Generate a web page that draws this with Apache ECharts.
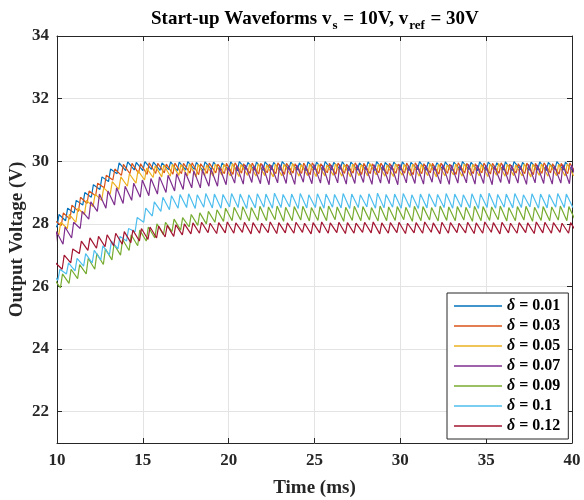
<!DOCTYPE html>
<html>
<head>
<meta charset="utf-8">
<script src="https://cdn.jsdelivr.net/npm/echarts@6/dist/echarts.min.js"></script>
<style>html,body{margin:0;padding:0;background:#fff}#main{width:584px;height:500px}</style>
</head>
<body>
<div id="main"></div>
<script>
// delta values (legend) and MATLAB default colours
var deltas = ['0.01', '0.03', '0.05', '0.07', '0.09', '0.1', '0.12'];
var colors = ['#0072BD', '#D95319', '#EDB120', '#7E2F8E', '#77AC30', '#4DBEEE', '#A2142F'];
var yTicks = [22, 24, 26, 28, 30, 32, 34];

// ripple cycles: one peak / trough pair every 0.5 ms from 10 ms to 40 ms
var cycleStart = 10, cycleLen = 0.5, riseTime = 0.12;
var phases = [0, 0.25, 0.1, 0.35, 0.2, 0.05, 0.3];

var hi001 = [28.05, 28.3, 28.5, 28.75, 29.0, 29.25, 29.5, 29.75, 29.95, 29.98,
  29.96, 29.99, 29.97, 29.95, 29.98, 29.97, 29.99, 29.96, 29.98, 29.97,
  29.95, 29.98, 29.99, 29.96, 29.97, 29.98, 29.96, 29.99, 29.97, 29.95,
  29.98, 29.97, 29.99, 29.96, 29.98, 29.97, 29.95, 29.98, 29.99, 29.96,
  29.97, 29.98, 29.96, 29.99, 29.97, 29.95, 29.98, 29.97, 29.99, 29.96,
  29.98, 29.97, 29.95, 29.98, 29.99, 29.96, 29.97, 29.98, 29.96, 29.99,
  29.97];
var lo001 = [27.65, 27.9, 28.1, 28.35, 28.6, 28.85, 29.1, 29.35, 29.6, 29.7,
  29.72, 29.70, 29.74, 29.71, 29.73, 29.69, 29.72, 29.74, 29.70, 29.73,
  29.71, 29.72, 29.69, 29.74, 29.72, 29.70, 29.73, 29.71, 29.74, 29.72,
  29.69, 29.73, 29.71, 29.72, 29.74, 29.70, 29.72, 29.73, 29.69, 29.71,
  29.74, 29.72, 29.70, 29.73, 29.71, 29.72, 29.74, 29.69, 29.72, 29.73,
  29.70, 29.71, 29.74, 29.72, 29.69, 29.73, 29.71, 29.72, 29.70, 29.74,
  29.72];

var hi003 = [28.1, 28.35, 28.6, 28.85, 29.05, 29.3, 29.55, 29.75, 29.9, 29.93,
  29.92, 29.95, 29.93, 29.91, 29.94, 29.93, 29.95, 29.92, 29.94, 29.91,
  29.93, 29.95, 29.92, 29.94, 29.93, 29.91, 29.95, 29.93, 29.92, 29.94,
  29.95, 29.92, 29.93, 29.94, 29.91, 29.95, 29.93, 29.92, 29.94, 29.93,
  29.91, 29.94, 29.95, 29.92, 29.93, 29.94, 29.91, 29.95, 29.93, 29.92,
  29.94, 29.93, 29.95, 29.91, 29.92, 29.94, 29.93, 29.95, 29.92, 29.93,
  29.94];
var lo003 = [27.7, 27.95, 28.15, 28.4, 28.65, 28.9, 29.15, 29.4, 29.55, 29.6,
  29.62, 29.58, 29.61, 29.63, 29.59, 29.60, 29.62, 29.57, 29.61, 29.63,
  29.60, 29.58, 29.62, 29.61, 29.59, 29.63, 29.60, 29.58, 29.62, 29.61,
  29.57, 29.60, 29.63, 29.59, 29.61, 29.62, 29.58, 29.60, 29.63, 29.59,
  29.61, 29.62, 29.57, 29.60, 29.63, 29.59, 29.61, 29.58, 29.62, 29.60,
  29.63, 29.59, 29.61, 29.58, 29.62, 29.60, 29.57, 29.61, 29.63, 29.59,
  29.60];

var hi005 = [27.85, 28.05, 28.3, 28.5, 28.75, 28.95, 29.15, 29.35, 29.5, 29.6,
  29.7, 29.78, 29.85, 29.88, 29.9, 29.89, 29.92, 29.9, 29.88, 29.91,
  29.9, 29.93, 29.89, 29.9, 29.92, 29.88, 29.91, 29.9, 29.93, 29.89,
  29.91, 29.9, 29.88, 29.92, 29.9, 29.91, 29.89, 29.93, 29.9, 29.88,
  29.92, 29.9, 29.91, 29.89, 29.93, 29.9, 29.88, 29.91, 29.92, 29.9,
  29.89, 29.91, 29.93, 29.9, 29.88, 29.92, 29.9, 29.91, 29.89, 29.9,
  29.92];
var lo005 = [27.45, 27.65, 27.85, 28.05, 28.3, 28.55, 28.75, 28.95, 29.1, 29.2,
  29.3, 29.4, 29.48, 29.5, 29.52, 29.55, 29.53, 29.5, 29.54, 29.52,
  29.56, 29.53, 29.51, 29.55, 29.52, 29.54, 29.5, 29.53, 29.56, 29.52,
  29.54, 29.51, 29.53, 29.55, 29.52, 29.5, 29.54, 29.53, 29.56, 29.52,
  29.51, 29.55, 29.53, 29.52, 29.54, 29.5, 29.53, 29.56, 29.52, 29.54,
  29.53, 29.51, 29.55, 29.52, 29.54, 29.53, 29.5, 29.55, 29.52, 29.54,
  29.53];

var hi007 = [27.75, 27.9, 28.05, 28.4, 28.7, 28.95, 29.05, 29.15, 29.2, 29.3,
  29.4, 29.45, 29.5, 29.55, 29.6, 29.65, 29.7, 29.72, 29.75, 29.8,
  29.82, 29.86, 29.88, 29.85, 29.89, 29.87, 29.9, 29.86, 29.88, 29.85,
  29.89, 29.87, 29.88, 29.9, 29.86, 29.88, 29.85, 29.89, 29.87, 29.88,
  29.9, 29.86, 29.88, 29.87, 29.85, 29.89, 29.88, 29.86, 29.9, 29.87,
  29.88, 29.85, 29.89, 29.87, 29.86, 29.9, 29.88, 29.87, 29.85, 29.89,
  29.88];
var lo007 = [27.1, 27.35, 27.55, 27.85, 28.15, 28.4, 28.5, 28.6, 28.65, 28.75,
  28.85, 28.9, 28.95, 29.0, 29.05, 29.1, 29.15, 29.15, 29.2, 29.2,
  29.25, 29.3, 29.27, 29.32, 29.28, 29.25, 29.31, 29.29, 29.26, 29.33,
  29.28, 29.3, 29.25, 29.31, 29.27, 29.29, 29.32, 29.26, 29.3, 29.28,
  29.25, 29.31, 29.29, 29.27, 29.33, 29.28, 29.26, 29.3, 29.31, 29.27,
  29.29, 29.25, 29.32, 29.28, 29.3, 29.26, 29.31, 29.29, 29.27, 29.3,
  29.28];

var hi009 = [26.25, 26.4, 26.55, 26.7, 26.9, 27.05, 27.2, 27.35, 27.5, 27.65,
  27.8, 27.9, 28.0, 28.05, 28.15, 28.2, 28.3, 28.35, 28.4, 28.45,
  28.5, 28.53, 28.55, 28.52, 28.56, 28.54, 28.57, 28.53, 28.55, 28.56,
  28.52, 28.55, 28.57, 28.54, 28.53, 28.56, 28.55, 28.52, 28.57, 28.54,
  28.55, 28.53, 28.56, 28.55, 28.52, 28.57, 28.54, 28.55, 28.53, 28.56,
  28.55, 28.54, 28.57, 28.52, 28.55, 28.56, 28.53, 28.55, 28.54, 28.57,
  28.55];
var lo009 = [25.8, 25.95, 26.1, 26.25, 26.4, 26.55, 26.7, 26.85, 27.0, 27.15,
  27.3, 27.45, 27.55, 27.65, 27.75, 27.8, 27.9, 27.95, 28.0, 28.05,
  28.08, 28.1, 28.12, 28.09, 28.11, 28.1, 28.13, 28.08, 28.1, 28.12,
  28.09, 28.11, 28.1, 28.13, 28.08, 28.11, 28.1, 28.12, 28.09, 28.1,
  28.11, 28.13, 28.08, 28.1, 28.12, 28.09, 28.11, 28.1, 28.12, 28.08,
  28.1, 28.11, 28.13, 28.09, 28.1, 28.12, 28.08, 28.11, 28.1, 28.12,
  28.1];

var hi010 = [26.4, 26.55, 26.75, 26.9, 27.05, 27.15, 27.3, 27.45, 27.6, 27.85,
  28.2, 28.5, 28.7, 28.85, 28.9, 28.94, 28.96, 28.93, 28.97, 28.95,
  28.94, 28.97, 28.95, 28.93, 28.96, 28.95, 28.98, 28.94, 28.95, 28.97,
  28.93, 28.96, 28.95, 28.94, 28.97, 28.95, 28.93, 28.96, 28.98, 28.94,
  28.95, 28.97, 28.93, 28.95, 28.96, 28.94, 28.97, 28.95, 28.93, 28.96,
  28.95, 28.98, 28.94, 28.95, 28.97, 28.93, 28.96, 28.95, 28.94, 28.97,
  28.95];
var lo010 = [26.05, 26.2, 26.4, 26.5, 26.65, 26.75, 26.85, 27.0, 27.2, 27.45,
  27.75, 28.05, 28.25, 28.4, 28.45, 28.5, 28.52, 28.49, 28.53, 28.51,
  28.5, 28.54, 28.52, 28.49, 28.51, 28.53, 28.5, 28.52, 28.54, 28.49,
  28.51, 28.52, 28.5, 28.53, 28.51, 28.49, 28.52, 28.54, 28.5, 28.51,
  28.53, 28.5, 28.52, 28.49, 28.51, 28.54, 28.52, 28.5, 28.53, 28.51,
  28.49, 28.52, 28.5, 28.53, 28.51, 28.52, 28.54, 28.5, 28.51, 28.53,
  28.52];

var hi012 = [26.75, 27.0, 27.2, 27.45, 27.55, 27.6, 27.65, 27.7, 27.75, 27.8,
  27.85, 27.9, 27.93, 27.95, 27.97, 28.0, 28.03, 28.05, 28.02, 28.04,
  28.06, 28.03, 28.05, 28.04, 28.02, 28.06, 28.04, 28.03, 28.05, 28.02,
  28.04, 28.06, 28.03, 28.05, 28.04, 28.02, 28.05, 28.06, 28.03, 28.04,
  28.05, 28.02, 28.04, 28.06, 28.03, 28.05, 28.04, 28.02, 28.05, 28.03,
  28.06, 28.04, 28.05, 28.02, 28.04, 28.03, 28.06, 28.05, 28.04, 28.02,
  28.04];
var lo012 = [26.3, 26.55, 26.75, 27.05, 27.15, 27.22, 27.27, 27.3, 27.35, 27.4,
  27.45, 27.5, 27.55, 27.58, 27.6, 27.65, 27.68, 27.7, 27.72, 27.69,
  27.71, 27.7, 27.73, 27.68, 27.7, 27.72, 27.69, 27.71, 27.7, 27.73,
  27.68, 27.71, 27.7, 27.72, 27.69, 27.7, 27.73, 27.71, 27.68, 27.7,
  27.72, 27.69, 27.71, 27.7, 27.73, 27.68, 27.7, 27.72, 27.71, 27.69,
  27.7, 27.73, 27.68, 27.71, 27.7, 27.72, 27.69, 27.71, 27.7, 27.73,
  27.7];

var hiList = [hi001, hi003, hi005, hi007, hi009, hi010, hi012];
var loList = [lo001, lo003, lo005, lo007, lo009, lo010, lo012];

// trough -> quick rise to peak -> slow fall to next trough
function wave(hi, lo, ph) {
    var pts = [];
    for (var i = 0; i < hi.length; i++) {
        var t = cycleStart + i * cycleLen + ph - cycleLen;
        pts.push([t, lo[i]]);
        pts.push([t + riseTime, hi[i]]);
    }
    pts.push([cycleStart + hi.length * cycleLen + ph - cycleLen, lo[lo.length - 1]]);
    return pts;
}

var axisCol = '#262626';
var font = 'Liberation Serif';

var series = [];
for (var k = 0; k < deltas.length; k++) {
    series.push({
        name: deltas[k],
        type: 'line',
        symbol: 'none',
        animation: false,
        data: wave(hiList[k], loList[k], phases[k]),
        lineStyle: { color: colors[k], width: 1.2 },
        itemStyle: { color: colors[k] }
    });
}

var myChart = echarts.init(document.getElementById('main'));
var option = {
    backgroundColor: '#fff',
    animation: false,
    title: {
        text: '{b|Start-up Waveforms v}{s|s}{b| = 10V, v}{s|ref}{b| = 30V}',
        left: 146,
        top: 1,
        textStyle: {
            rich: {
                b: { fontFamily: font, fontWeight: 'bold', fontSize: 19, color: '#000' },
                s: { fontFamily: font, fontWeight: 'bold', fontSize: 13, color: '#000', padding: [13, 1, 0, 1] }
            }
        }
    },
    grid: { left: 57, right: 12, top: 36, bottom: 57, outerBoundsMode: 'none' },
    legend: {
        orient: 'vertical',
        left: 447,
        top: 293,
        padding: [5, 8, 5, 7],
        itemWidth: 48,
        itemHeight: 1.5,
        itemGap: 4,
        icon: 'rect',
        backgroundColor: '#fff',
        borderColor: axisCol,
        borderWidth: 1,
        data: deltas,
        formatter: function (name) {
            return '{i|δ}{n| = ' + name + '}';
        },
        textStyle: {
            rich: {
                i: { fontFamily: font, fontStyle: 'italic', fontWeight: 'bold', fontSize: 16, lineHeight: 16, color: '#000' },
                n: { fontFamily: font, fontWeight: 'bold', fontSize: 16, lineHeight: 16, color: '#000' }
            }
        }
    },
    xAxis: [{
        type: 'value',
        min: 10, max: 40, interval: 5,
        name: 'Time (ms)',
        nameLocation: 'middle',
        nameGap: 36,
        nameTextStyle: { fontFamily: font, fontWeight: 'bold', fontSize: 19, color: axisCol },
        axisLine: { show: true, lineStyle: { color: axisCol, width: 1 } },
        axisTick: { inside: true, length: 5, lineStyle: { color: axisCol } },
        axisLabel: { margin: 9, fontFamily: font, fontWeight: 'bold', fontSize: 17, color: axisCol },
        splitLine: { show: true, lineStyle: { color: '#e3e3e3', width: 1 } }
    }, {
        type: 'value',
        position: 'top',
        min: 10, max: 40, interval: 5,
        axisLine: { show: true, lineStyle: { color: axisCol, width: 1 } },
        axisTick: { inside: true, length: 5, lineStyle: { color: axisCol } },
        axisLabel: { show: false },
        splitLine: { show: false }
    }],
    yAxis: [{
        type: 'value',
        min: 21, max: 34,
        name: 'Output Voltage (V)',
        nameLocation: 'middle',
        nameGap: 30,
        nameMoveOverlap: false,
        nameTextStyle: { fontFamily: font, fontWeight: 'bold', fontSize: 19, color: axisCol },
        axisLine: { show: true, lineStyle: { color: axisCol, width: 1 } },
        axisTick: { inside: true, length: 5, customValues: yTicks, lineStyle: { color: axisCol } },
        axisLabel: { margin: 8, customValues: yTicks, fontFamily: font, fontWeight: 'bold', fontSize: 17, color: axisCol },
        splitLine: { show: true, lineStyle: { color: '#e3e3e3', width: 1 } }
    }, {
        type: 'value',
        position: 'right',
        min: 21, max: 34,
        axisLine: { show: true, lineStyle: { color: axisCol, width: 1 } },
        axisTick: { inside: true, length: 5, customValues: yTicks, lineStyle: { color: axisCol } },
        axisLabel: { show: false, customValues: yTicks },
        splitLine: { show: false }
    }],
    series: series
};
myChart.setOption(option);
</script>
</body>
</html>
